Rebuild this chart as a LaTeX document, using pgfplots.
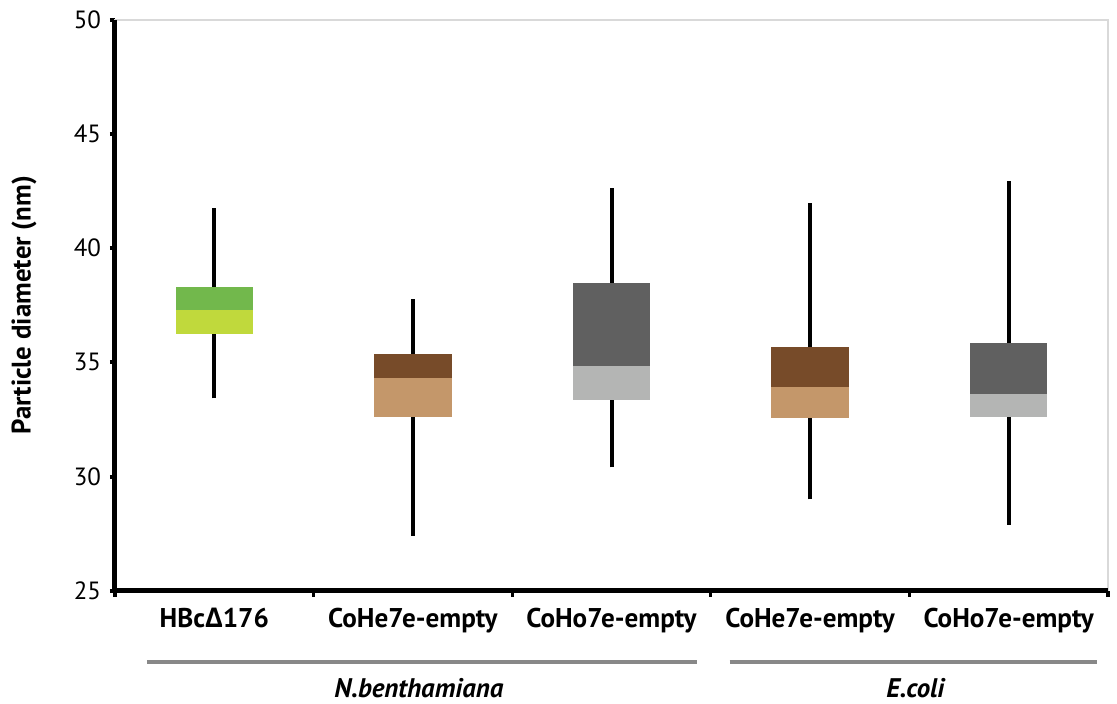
\documentclass[border=0pt]{standalone}
\usepackage{pgfplots}
\pgfplotsset{compat=1.18}
\usepackage{fontspec}
\setmainfont{PT Sans}
\newfontfamily\deltafont{Open Sans}
\definecolor{gTop}{HTML}{72B84C}
\definecolor{gBot}{HTML}{C0D93C}
\definecolor{bTop}{HTML}{774B29}
\definecolor{bBot}{HTML}{C4976A}
\definecolor{kTop}{HTML}{606060}
\definecolor{kBot}{HTML}{B4B5B4}
\definecolor{grp}{HTML}{888888}
\pgfplotsset{
  part/.style={draw=none, fill=#1, forget plot},
  whisk/.style={black, line width=2bp, forget plot},
}
\begin{document}
\begin{tikzpicture}
\begin{axis}[
  at={(0,0)}, anchor=south west,
  scale only axis, width=496.5bp, height=285.35bp,
  xmin=-0.5, xmax=4.5, ymin=25, ymax=50,
  clip=false,
  axis line style={draw=black!15, line width=0.6bp},
  ytick={25,30,...,50},
  xtick={0,...,4},
  xticklabels={HBc{\deltafont\bfseries Δ}176, CoHe7e-empty, CoHo7e-empty, CoHe7e-empty, CoHo7e-empty},
  minor xtick={-0.5,0.5,...,4.5},
  tick align=outside,
  tick pos=left,
  major tick length=2.5bp,
  minor tick length=3bp,
  major x tick style={draw=none},
  minor x tick style={black, line width=1.6bp},
  major y tick style={black, line width=2bp},
  /pgf/number format/assume math mode=true,
  yticklabel style={font=\fontsize{12.5}{14}\selectfont, xshift=-1bp},
  xticklabel style={font=\bfseries\fontsize{13.6}{15}\selectfont, anchor=base, yshift=-16bp},
]
% columns per box: whisker low, lower quartile, median, upper quartile, whisker high
% 0: HBc-delta176 (N.b.)   33.43 36.23 37.30 38.29 41.75
\addplot[whisk] coordinates {(0,33.43) (0,36.23)};
\addplot[whisk] coordinates {(0,38.29) (0,41.75)};
\addplot[part=gBot] coordinates {(-0.195,36.23) (0.195,36.23) (0.195,37.30) (-0.195,37.30)} -- cycle;
\addplot[part=gTop] coordinates {(-0.195,37.30) (0.195,37.30) (0.195,38.29) (-0.195,38.29)} -- cycle;
% 1: CoHe7e-empty (N.b.)   27.40 32.62 34.30 35.35 37.76
\addplot[whisk] coordinates {(1,27.40) (1,32.62)};
\addplot[whisk] coordinates {(1,35.35) (1,37.76)};
\addplot[part=bBot] coordinates {(0.805,32.62) (1.195,32.62) (1.195,34.30) (0.805,34.30)} -- cycle;
\addplot[part=bTop] coordinates {(0.805,34.30) (1.195,34.30) (1.195,35.35) (0.805,35.35)} -- cycle;
% 2: CoHo7e-empty (N.b.)   30.40 33.35 34.86 38.49 42.63
\addplot[whisk] coordinates {(2,30.40) (2,33.35)};
\addplot[whisk] coordinates {(2,38.49) (2,42.63)};
\addplot[part=kBot] coordinates {(1.805,33.35) (2.195,33.35) (2.195,34.86) (1.805,34.86)} -- cycle;
\addplot[part=kTop] coordinates {(1.805,34.86) (2.195,34.86) (2.195,38.49) (1.805,38.49)} -- cycle;
% 3: CoHe7e-empty (E.coli) 29.00 32.58 33.91 35.66 41.97
\addplot[whisk] coordinates {(3,29.00) (3,32.58)};
\addplot[whisk] coordinates {(3,35.66) (3,41.97)};
\addplot[part=bBot] coordinates {(2.805,32.58) (3.195,32.58) (3.195,33.91) (2.805,33.91)} -- cycle;
\addplot[part=bTop] coordinates {(2.805,33.91) (3.195,33.91) (3.195,35.66) (2.805,35.66)} -- cycle;
% 4: CoHo7e-empty (E.coli) 27.88 32.62 33.60 35.86 42.94
\addplot[whisk] coordinates {(4,27.88) (4,32.62)};
\addplot[whisk] coordinates {(4,35.86) (4,42.94)};
\addplot[part=kBot] coordinates {(3.805,32.62) (4.195,32.62) (4.195,33.60) (3.805,33.60)} -- cycle;
\addplot[part=kTop] coordinates {(3.805,33.60) (4.195,33.60) (4.195,35.86) (3.805,35.86)} -- cycle;

\draw[black, line width=2.5bp] (rel axis cs:0,1) -- (rel axis cs:0,0) -- (rel axis cs:1,0);
\draw[grp, line width=2bp] ([yshift=-35.65bp]axis cs:-0.339,25) -- ([yshift=-35.65bp]axis cs:2.429,25);
\draw[grp, line width=2bp] ([yshift=-35.65bp]axis cs:2.595,25) -- ([yshift=-35.65bp]axis cs:4.447,25);
\node[anchor=base, inner sep=0pt, font=\bfseries\itshape\fontsize{13.5}{15}\selectfont] at ([yshift=-53.5bp]axis cs:1.03,25) {N.benthamiana};
\node[anchor=base, inner sep=0pt, font=\bfseries\itshape\fontsize{13.5}{15}\selectfont] at ([yshift=-53.5bp]axis cs:3.53,25) {E.coli};
\node[rotate=90, font=\bfseries\fontsize{13.5}{15}\selectfont] at ([xshift=-45.5bp]rel axis cs:0,0.5) {Particle diameter (nm)};
\end{axis}
\pgfresetboundingbox
\useasboundingbox (-57.5bp,-56.65bp) rectangle (501bp,295.35bp);
\end{tikzpicture}
\end{document}
